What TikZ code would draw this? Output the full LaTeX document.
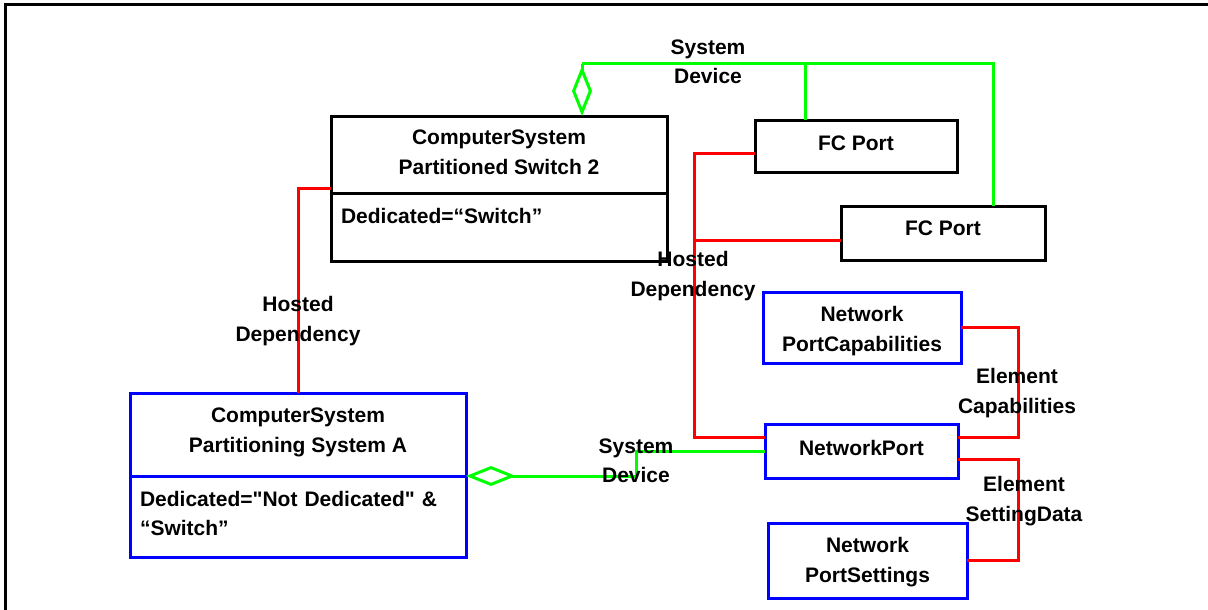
\documentclass[tikz,border=0pt]{standalone}
\usepackage{fontspec}
\setmainfont{Liberation Sans}[Ligatures=TeXOff]
\usetikzlibrary{positioning,arrows.meta}
\definecolor{umlred}{RGB}{255,0,0}
\definecolor{umlgreen}{RGB}{0,255,0}
\definecolor{umlblue}{RGB}{0,0,255}
\begin{document}
\begin{tikzpicture}[x=1pt,y=-1pt,font=\fontsize{21}{29.5}\selectfont\bfseries, line join=miter,
	box/.style={draw=#1, line width=3pt, inner sep=0pt, outer sep=0pt, align=center},
	box/.default=black,
	hosted/.style={draw=umlred, line width=3pt},
	sysdev/.style={draw=umlgreen, line width=3pt},
	agg/.style={{Diamond[open,length=50pt,width=20pt]}-},
	lbl/.style={align=center, inner sep=0pt}]
				\useasboundingbox (0,0) rectangle (1208,610);
				\draw[line width=3pt] (5,610)--(5,4.5)--(1208,4.5);
				% classes
				\node[box, anchor=north west, minimum width=336pt, minimum height=77pt, text height=45pt, text depth=6pt] (sw2) at (331,116) {ComputerSystem\\Partitioned Switch 2};
				\node[box, below=0pt of sw2, minimum width=336pt, minimum height=68pt, text width=316pt, align=left, text height=16pt, text depth=24pt] (sw2attr) {Dedicated=“Switch”};
				\node[box=umlblue, anchor=north west, minimum width=336pt, minimum height=83pt, text height=45pt, text depth=10pt] (csa) at (130,393) {ComputerSystem\\Partitioning System A};
				\node[box=umlblue, below=0pt of csa, minimum width=336pt, minimum height=81pt, text width=316pt, align=left, text height=16pt, text depth=37pt] (csaattr) {Dedicated="Not Dedicated" \&\\“Switch”};
				\node[box, anchor=north west, minimum width=202pt, minimum height=52pt, text height=16pt, text depth=8pt] (fc1) at (755,120) {FC Port};
				\node[box, anchor=north west, minimum width=204pt, minimum height=54pt, text height=16pt, text depth=12pt] (fc2) at (841,206) {FC Port};
				\node[box=umlblue, anchor=north west, minimum width=198pt, minimum height=71pt, text height=50pt, text depth=3pt] (npc) at (763,292) {Network\\PortCapabilities};
				\node[box=umlblue, anchor=north west, minimum width=193pt, minimum height=54pt, text height=16pt, text depth=8pt] (np) at (765,424) {NetworkPort};
				\node[box=umlblue, anchor=north west, minimum width=199pt, minimum height=75pt, text height=47pt, text depth=4pt] (nps) at (768,523) {Network\\PortSettings};
				% associations
				\coordinate (sdtop) at (582,64);
				\coordinate (sdbend) at (636,476);
				\coordinate (hdx) at (694,240);
				\coordinate (ecx) at (1018,380);
				\coordinate (esx) at (1018,500);
				\draw[sysdev, agg] ([xshift=83pt]sw2.north)--(sdtop);
				\draw[sysdev] (sdtop)-|([xshift=50pt]fc2.north);
				\draw[sysdev] ([xshift=-51pt]fc1.north)|-(sdtop);
				\draw[sysdev, agg] (csa.south east)--(sdbend)|-(np.west);
				\draw[hosted] ([yshift=-33.5pt]sw2.west)-|(csa.north);
				\draw[hosted] ([yshift=-7pt]fc1.west)-|(hdx)|-([yshift=14pt]np.west);
				\draw[hosted] ([yshift=-7pt]fc2.west)--(hdx);
				\draw[hosted] (npc.east)-|(ecx)|-([yshift=14pt]np.east);
				\draw[hosted] ([yshift=-8pt]np.east)-|(esx)|-(nps.east);
				% labels
				\node[lbl] (sdlbl1) at (708,62) {System\\Device};
				\node[lbl] (sdlbl2) at (636,461) {System\\Device};
				\node[lbl] (hdlbl1) at (298,321) {Hosted\\Dependency};
				\node[lbl] (hdlbl2) at (693,276) {Hosted\\Dependency};
				\node[lbl] (eclbl) at (1017,393) {Element\\Capabilities};
				\node[lbl] (eslbl) at (1024,501) {Element\\SettingData};
			\end{tikzpicture}
\end{document}
